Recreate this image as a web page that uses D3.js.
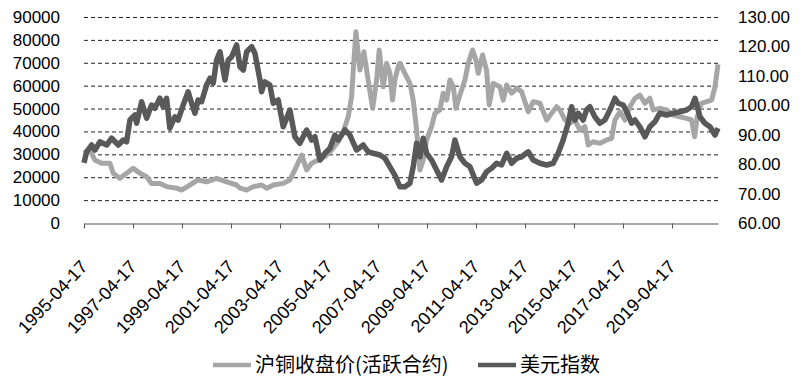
<!DOCTYPE html>
<html>
<head>
<meta charset="utf-8">
<script src="https://cdn.jsdelivr.net/npm/d3@7"></script>
<style>
  body { margin: 0; background: #fff; }
  text { font-family: "Liberation Sans", "Noto Sans CJK SC", sans-serif; fill: #000; }
  .legend text { font-family: "Noto Sans CJK SC", sans-serif; }
</style>
</head>
<body>
<svg id="chart" width="801" height="381"></svg>
<script>
// 沪铜收盘价(活跃合约) - left axis
var cuDates = ["1995-04-17","1995-07-14","1995-09-27","1996-01-04","1996-05-07","1996-06-26","1996-10-03","1997-01-11","1997-04-20","1997-07-29","1997-11-06","1998-01-18","1998-05-22","1998-08-30","1999-01-27","1999-04-11","1999-08-13","1999-12-13","2000-04-18","2000-09-14","2001-02-11","2001-07-09","2001-08-29","2001-12-06","2002-03-15","2002-07-17","2002-09-30","2003-01-07","2003-06-04","2003-09-11","2003-11-25","2004-03-06","2004-05-18","2004-08-01","2004-11-07","2005-02-15","2005-05-26","2005-09-01","2005-11-15","2006-01-28","2006-03-20","2006-04-13","2006-05-23","2006-07-21","2006-09-19","2006-11-21","2007-01-27","2007-03-28","2007-05-05","2007-07-04","2007-08-23","2007-10-12","2007-11-20","2007-12-24","2008-02-12","2008-03-09","2008-05-22","2008-08-05","2008-09-23","2008-11-13","2008-12-08","2009-01-01","2009-02-19","2009-04-11","2009-06-24","2009-08-13","2009-10-26","2009-12-13","2010-02-03","2010-03-25","2010-05-13","2010-06-22","2010-08-20","2010-11-03","2010-12-22","2011-02-25","2011-04-16","2011-05-20","2011-07-24","2011-09-22","2011-10-31","2011-12-30","2012-04-08","2012-05-27","2012-07-17","2012-09-30","2012-12-13","2013-02-25","2013-06-04","2013-08-17","2013-11-25","2014-03-06","2014-05-18","2014-08-01","2014-09-19","2014-12-03","2015-02-15","2015-05-01","2015-07-14","2015-09-27","2015-11-15","2016-01-28","2016-05-07","2016-08-16","2016-10-29","2016-12-17","2017-03-02","2017-05-15","2017-07-29","2017-10-12","2017-12-24","2018-03-09","2018-05-22","2018-07-10","2018-10-18","2019-01-26","2019-05-05","2019-08-13","2019-11-20","2020-02-03","2020-03-20","2020-04-28","2020-06-28","2020-09-14","2020-11-28","2021-01-17","2021-03-03"]
var cuValues = [30500,31900,27500,26100,26100,21700,19500,21700,23900,21700,20200,17300,17300,15900,15200,14400,16600,18800,18000,19500,18000,16600,15200,14400,15900,16600,15200,16600,17300,18800,23200,29700,23200,26100,27500,29000,31900,35500,39900,46400,55200,66800,83600,66800,74800,62500,50100,62500,75600,59500,69800,65400,53700,62500,68300,69800,65400,61000,53700,40600,30500,23200,27500,36300,42100,47900,49400,56700,53700,62500,59500,50100,55900,62500,69800,75600,71200,65400,73400,66800,51600,61000,59500,53700,60300,56700,58900,57400,48600,53000,52300,45000,47900,50800,49400,45000,43600,45000,40600,42100,34100,35500,34800,36300,37000,45000,48600,45000,50800,54500,55900,52300,54500,49400,50100,49400,47200,46400,45700,45000,37700,46400,52300,53000,53700,59500,69300]

// 美元指数 - right axis
var usdDates = ["1995-04-17","1995-05-26","1995-08-08","1995-09-27","1995-12-10","1996-03-20","1996-06-02","1996-09-09","1996-11-21","1997-01-11","1997-03-02","1997-05-15","1997-06-10","1997-08-23","1997-11-06","1998-01-18","1998-03-09","1998-05-22","1998-07-10","1998-08-30","1998-10-18","1999-01-01","1999-02-19","1999-05-05","1999-07-18","1999-09-07","1999-10-26","1999-12-13","2000-02-03","2000-04-18","2000-06-07","2000-07-26","2000-09-14","2000-11-03","2001-01-17","2001-03-07","2001-04-27","2001-07-09","2001-08-29","2001-10-17","2001-12-06","2002-02-19","2002-04-08","2002-06-22","2002-07-17","2002-09-03","2002-11-17","2003-01-07","2003-03-21","2003-06-04","2003-09-11","2003-11-25","2004-02-07","2004-05-18","2004-08-01","2004-09-19","2004-12-03","2005-02-15","2005-05-01","2005-07-14","2005-09-01","2005-12-10","2006-02-22","2006-06-02","2006-09-09","2006-11-21","2007-02-05","2007-05-15","2007-07-29","2007-10-12","2007-12-24","2008-03-09","2008-05-22","2008-08-05","2008-09-23","2008-11-13","2009-01-01","2009-02-19","2009-04-11","2009-06-24","2009-09-07","2009-11-20","2010-02-03","2010-04-18","2010-06-07","2010-08-20","2010-11-03","2011-01-17","2011-04-27","2011-07-09","2011-09-22","2011-12-06","2012-02-19","2012-05-03","2012-07-17","2012-09-30","2012-12-13","2013-02-25","2013-06-04","2013-08-17","2013-11-25","2014-03-06","2014-06-11","2014-08-24","2014-11-07","2015-01-20","2015-03-12","2015-05-01","2015-06-18","2015-09-01","2015-10-21","2015-12-10","2016-02-22","2016-05-07","2016-07-21","2016-10-03","2016-12-17","2017-02-05","2017-04-20","2017-07-04","2017-08-23","2017-10-12","2017-12-24","2018-03-09","2018-05-22","2018-08-05","2018-10-18","2019-01-26","2019-05-05","2019-08-13","2019-11-20","2020-02-03","2020-03-25","2020-06-07","2020-08-20","2020-11-03","2021-01-17","2021-03-03"]
var usdValues = [80.4,84.2,86.5,84.8,87.6,86.5,88.8,86.5,88.2,87.6,95,96.7,93.9,101.2,95.6,100.1,99,102.4,99.5,102.4,92.2,96.1,95,100.1,104.6,100.7,97.3,101.8,101.2,106.9,109.2,107.5,115.4,118.2,108.6,115.4,116.5,120.5,113.1,112,118.2,119.9,117.7,108.6,104.6,108,106.9,100.7,101.8,92.7,98.4,89.3,87.1,91.6,88.2,89.3,81.4,83.7,85.4,89.9,88.2,91.6,89.9,84.8,86.5,84.2,83.7,83.1,82,79.1,76.3,72.3,72.3,73.5,79.1,87.1,82.5,88.8,83.7,81.4,78,74.6,79.1,82.5,88.2,82.5,80.3,79.1,73.5,74.6,77.4,78.6,80.3,79.7,83.7,80.3,82,82.5,84.2,81.4,80.3,79.7,80.3,83.7,88.2,93.9,99.5,95,97.3,95,98.4,99.5,96.1,93.9,95,98.4,102.4,100.7,100.1,96.7,93.9,95,92.7,89.3,92.7,94.4,97.3,96.7,97.3,97.8,98.4,99.5,102.4,96.1,93.9,92.7,89.9,92.2]

var tickLabels = ["1995-04-17","1997-04-17","1999-04-17","2001-04-17","2003-04-17","2005-04-17","2007-04-17","2009-04-17","2011-04-17","2013-04-17","2015-04-17","2017-04-17","2019-04-17"]
var leftTicks = [0,10000,20000,30000,40000,50000,60000,70000,80000,90000]
var rightTicks = [60,70,80,90,100,110,120,130]
var seriesNames = ["沪铜收盘价(活跃合约)", "美元指数"]

var parse = d3.timeParse("%Y-%m-%d")
var plotLeft = 84, plotRight = 718, plotTop = 17, plotBottom = 223

var svg = d3.select("#chart")

var x = d3.scaleTime()
    .domain([parse("1995-04-17"), parse("2021-03-03")])
    .range([plotLeft, plotRight])
var yL = d3.scaleLinear().domain([0, 90000]).range([plotBottom, plotTop])
var yR = d3.scaleLinear().domain([60, 130]).range([plotBottom, plotTop])

// dashed grid
svg.append("g")
    .selectAll("line")
    .data(leftTicks.slice(1))
    .join("line")
    .attr("x1", plotLeft).attr("x2", plotRight)
    .attr("y1", function(d) { return yL(d) + 0.5 })
    .attr("y2", function(d) { return yL(d) + 0.5 })
    .attr("stroke", "#222")
    .attr("stroke-width", 1)
    .attr("stroke-dasharray", "4,3")

// left axis labels
svg.append("g")
    .selectAll("text")
    .data(leftTicks)
    .join("text")
    .attr("x", 60)
    .attr("y", function(d) { return yL(d) })
    .attr("dy", "0.35em")
    .attr("text-anchor", "end")
    .attr("font-size", 17)
    .text(function(d) { return d })

// right axis labels
svg.append("g")
    .selectAll("text")
    .data(rightTicks)
    .join("text")
    .attr("x", 738)
    .attr("y", function(d) { return yR(d) })
    .attr("dy", "0.35em")
    .attr("text-anchor", "start")
    .attr("font-size", 17)
    .text(function(d) { return d.toFixed(2) })

// bottom axis
var xAxis = d3.axisBottom(x)
    .tickValues(tickLabels.map(parse))
    .tickSize(5)
    .tickSizeOuter(0)
    .tickFormat(d3.timeFormat("%Y-%m-%d"))

var gx = svg.append("g")
    .attr("transform", "translate(0," + (plotBottom + 0.5) + ")")
    .call(xAxis)
gx.select(".domain").attr("stroke", "#555")
gx.selectAll(".tick line").attr("stroke", "#555")
gx.selectAll(".tick text")
    .attr("font-size", 18)
    .attr("fill", "#000")
    .attr("text-anchor", "end")
    .attr("dy", null).attr("y", null)
    .attr("transform", "translate(4,44) rotate(-47)")

// lines
var cuData = cuDates.map(function(d, i) { return { date: parse(d), v: cuValues[i] } })
var usdData = usdDates.map(function(d, i) { return { date: parse(d), v: usdValues[i] } })

svg.append("path")
    .datum(cuData)
    .attr("fill", "none")
    .attr("stroke", "#a6a6a6")
    .attr("stroke-width", 5)
    .attr("stroke-linejoin", "round")
    .attr("d", d3.line().x(function(d) { return x(d.date) }).y(function(d) { return yL(d.v) }))

svg.append("path")
    .datum(usdData)
    .attr("fill", "none")
    .attr("stroke", "#595959")
    .attr("stroke-width", 5.5)
    .attr("stroke-linejoin", "round")
    .attr("d", d3.line().x(function(d) { return x(d.date) }).y(function(d) { return yR(d.v) }))

// legend
var legend = svg.append("g").attr("class", "legend")
var legendItems = [
    { name: seriesNames[0], color: "#a6a6a6", x: 213 },
    { name: seriesNames[1], color: "#595959", x: 478 }
]
legend.selectAll("line")
    .data(legendItems)
    .join("line")
    .attr("x1", function(d) { return d.x })
    .attr("x2", function(d) { return d.x + 38 })
    .attr("y1", 365).attr("y2", 365)
    .attr("stroke", function(d) { return d.color })
    .attr("stroke-width", 4.5)
legend.selectAll("text")
    .data(legendItems)
    .join("text")
    .attr("x", function(d) { return d.x + 42 })
    .attr("y", 365)
    .attr("dy", "0.35em")
    .attr("font-size", 20)
    .text(function(d) { return d.name })
</script>
</body>
</html>
